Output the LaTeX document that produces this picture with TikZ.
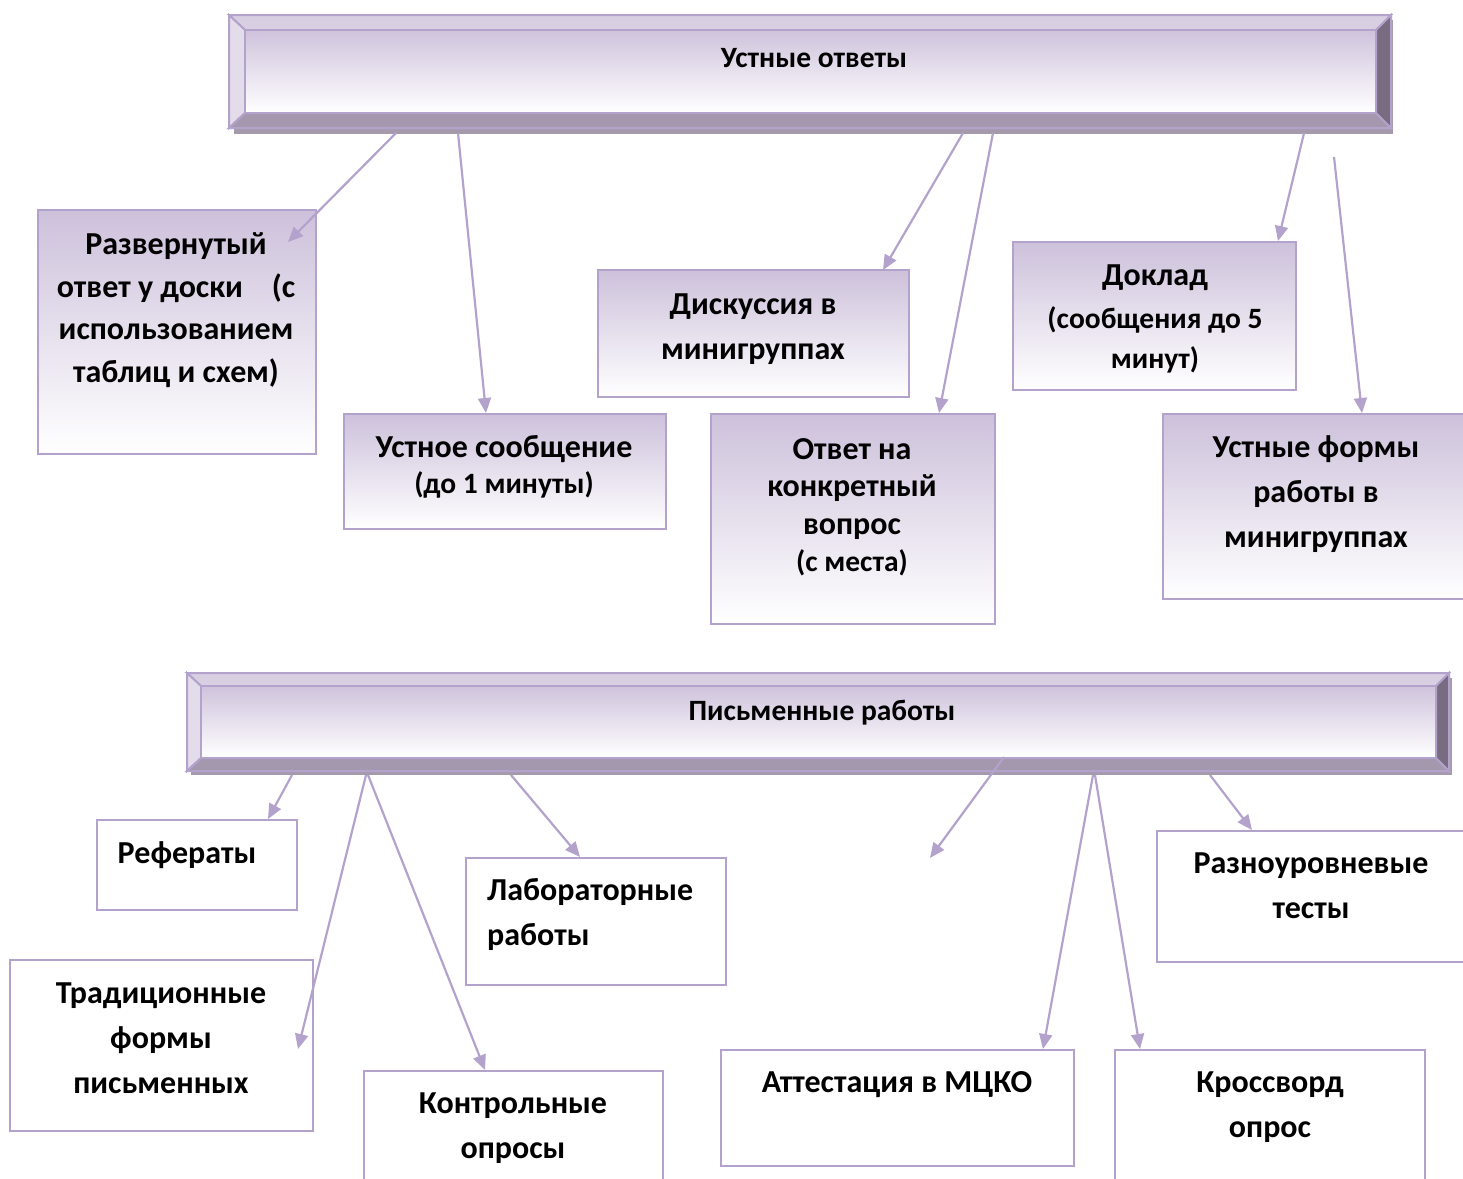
\documentclass[tikz,border=0pt]{standalone}
\usepackage{fontspec}
\setmainfont{Carlito}
\usetikzlibrary{arrows.meta,calc}
\definecolor{lav}{HTML}{B3A2CC}
\definecolor{topg}{HTML}{CDC1DB}
\definecolor{facetop}{HTML}{CFC3DC}
\definecolor{shadowc}{HTML}{A59AAC}
\definecolor{bevtop}{HTML}{D8CFE3}
\definecolor{bevleft}{HTML}{E3DDEB}
\definecolor{bevbot}{HTML}{A398AD}
\definecolor{bevright}{HTML}{786D80}
\begin{document}
\begin{tikzpicture}[x=1pt,y=-1pt,
  arr/.style={draw=lav, line width=2.2pt, -{Triangle[length=15pt,width=13pt]}},
  bev/.style={draw=lav, line width=2pt, line join=miter},
  face/.style={draw=lav, line width=2pt, top color=facetop, bottom color=white, inner sep=0pt},
  gbox/.style={draw=lav, line width=2pt, top color=topg, bottom color=white, inner sep=0pt},
  wbox/.style={draw=lav, line width=2pt, fill=white, inner sep=0pt},
  htxt/.style={font=\bfseries\fontsize{29.5}{34}\selectfont, inner sep=0pt},
  txt/.style={font=\bfseries\fontsize{32}{45}\selectfont, align=center, inner sep=0pt, anchor=base},
  stxt/.style={font=\bfseries\fontsize{29.5}{40}\selectfont, align=center, inner sep=0pt, anchor=base},
]
\useasboundingbox (0,0) rectangle (1463,1178);

% ---------- bar 1 ----------
\fill[shadowc] (234,20) rectangle (1393,134);
\filldraw[bev, fill=bevtop] (229,15) -- (1391,15) -- (1376,30) -- (245,30) -- cycle;
\filldraw[bev, fill=bevleft] (229,15) -- (245,30) -- (245,113) -- (229,128) -- cycle;
\filldraw[bev, fill=bevbot] (229,128) -- (245,113) -- (1376,113) -- (1391,128) -- cycle;
\filldraw[bev, fill=bevright] (1391,15) -- (1391,128) -- (1376,113) -- (1376,30) -- cycle;
\node[face, minimum width=1131pt, minimum height=83pt] (oral) at (810.5,71.5) {};
\node[htxt] (oralt) at (814,58) {Устные ответы};

% ---------- bar 2 ----------
\fill[shadowc] (191,678) rectangle (1452,775);
\filldraw[bev, fill=bevtop] (187,673) -- (1449,673) -- (1436,686) -- (201,686) -- cycle;
\filldraw[bev, fill=bevleft] (187,673) -- (201,686) -- (201,758) -- (187,771) -- cycle;
\filldraw[bev, fill=bevbot] (187,771) -- (201,758) -- (1436,758) -- (1449,771) -- cycle;
\filldraw[bev, fill=bevright] (1449,673) -- (1449,771) -- (1436,758) -- (1436,686) -- cycle;
\node[face, minimum width=1235pt, minimum height=72pt] (writ) at (818.5,722) {};
\node[htxt] (writt) at (822,713) {Письменные работы};

% ---------- top boxes ----------
\node[gbox, minimum width=278pt, minimum height=244pt] (razv) at (177,332) {};
\node[gbox, minimum width=322pt, minimum height=115pt] (usoob) at (505,471.5) {};
\node[gbox, minimum width=311pt, minimum height=127pt] (disk) at (753.5,333.5) {};
\node[gbox, minimum width=284pt, minimum height=210pt] (otvet) at (853,519) {};
\node[gbox, minimum width=283pt, minimum height=148pt] (dokl) at (1154.5,316) {};
\node[gbox, minimum width=310pt, minimum height=185pt] (uform) at (1318,506.5) {};

% multi-line text nodes are placed at the baseline of their last line
\node[txt, font=\bfseries\fontsize{32}{42.5}\selectfont] (razvt) at (176,382) {Развернутый\\ответ у доски\ \ \ \ (с\\использованием\\таблиц и схем)};
\node[txt] (usoobt) at (504,457) {Устное сообщение};
\node[stxt] (usoobt2) at (504,493) {(до 1 минуты)};
\node[txt] (diskt) at (753,359) {Дискуссия в\\минигруппах};
\node[txt, font=\bfseries\fontsize{32}{37.5}\selectfont] (otvett) at (852,534) {Ответ на\\конкретный\\вопрос};
\node[stxt] (otvett2) at (852,571) {(с места)};
\node[txt] (doklt) at (1155,285) {Доклад};
\node[stxt] (doklt2) at (1155,368) {(сообщения до 5\\минут)};
\node[txt] (uformt) at (1316,547) {Устные формы\\работы в\\минигруппах};

% ---------- bottom boxes ----------
\node[wbox, minimum width=200pt, minimum height=90pt] (ref) at (197,865) {};
\node[wbox, minimum width=303pt, minimum height=171pt] (trad) at (161.5,1045.5) {};
\node[wbox, minimum width=299pt, minimum height=130pt] (kontr) at (513.5,1136) {};
\node[wbox, minimum width=260pt, minimum height=127pt] (lab) at (596,921.5) {};
\node[wbox, minimum width=353pt, minimum height=116pt] (att) at (897.5,1108) {};
\node[wbox, minimum width=320pt, minimum height=131pt] (razn) at (1317,896.5) {};
\node[wbox, minimum width=310pt, minimum height=150pt] (kross) at (1270,1125) {};

\node[txt] (reft) at (187,863) {Рефераты};
\node[txt] (tradt) at (161,1093) {Традиционные\\формы\\письменных};
\node[txt] (kontrt) at (513,1158) {Контрольные\\опросы};
\node[txt, align=left, anchor=base west] (labt) at (487,945) {Лабораторные\\работы};
\node[txt] (attt) at (897,1092) {Аттестация в МЦКО};
\node[txt] (raznt) at (1311,918) {Разноуровневые\\тесты};
\node[txt] (krosst) at (1270,1137) {Кроссворд\\опрос};

% ---------- connectors, top ----------
\coordinate (o1) at (396,133);
\coordinate (o2) at (458,133);
\coordinate (o3) at (963,133);
\coordinate (o4) at (993,133);
\coordinate (o5) at (1304,133);
\coordinate (o6) at (1334,157);
\coordinate (e1) at (288,242);
\coordinate (e2) at (486,413);
\coordinate (e3) at (883,270);
\coordinate (e4) at (939,413);
\coordinate (e5) at (1278,241);
\coordinate (e6) at (1362,413);
\draw[arr] (o1) -- (e1);
\draw[arr] (o2) -- (e2);
\draw[arr] (o3) -- (e3);
\draw[arr] (o4) -- (e4);
\draw[arr] (o5) -- (e5);
\draw[arr] (o6) -- (e6);

% ---------- connectors, bottom ----------
\coordinate (w1) at (292,775);
\coordinate (w2) at (366,775);
\coordinate (w3) at (368,775);
\coordinate (w4) at (511,775);
\coordinate (w5) at (1004,757);
\coordinate (w6) at (1093,775);
\coordinate (w7) at (1095,775);
\coordinate (w8) at (1210,775);
\coordinate (f1) at (268,819);
\coordinate (f2) at (298,1049);
\coordinate (f3) at (485,1070);
\coordinate (f4) at (580,857);
\coordinate (f5) at (930,858);
\coordinate (f6) at (1043,1049);
\coordinate (f7) at (1140,1049);
\coordinate (f8) at (1252,830);
\draw[arr] (w1) -- (f1);
\draw[arr] (w2) -- (f2);
\draw[arr] (w3) -- (f3);
\draw[arr] (w4) -- (f4);
\draw[arr] (w5) -- (f5);
\draw[arr] (w6) -- (f6);
\draw[arr] (w7) -- (f7);
\draw[arr] (w8) -- (f8);
\end{tikzpicture}
\end{document}
